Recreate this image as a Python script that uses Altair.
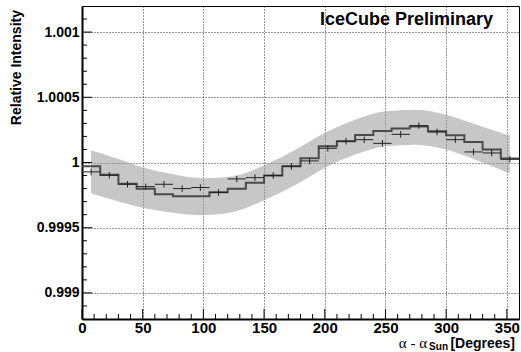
import altair as alt
import pandas as pd

# ---- data ----
bin_lo = [0, 15, 30, 45, 60, 75, 90, 105, 120, 135, 150, 165,
          180, 195, 210, 225, 240, 255, 270, 285, 300, 315, 330, 345]
bin_hi = [15, 30, 45, 60, 75, 90, 105, 120, 135, 150, 165, 180,
          195, 210, 225, 240, 255, 270, 285, 300, 315, 330, 345, 360]
step_vals = [0.999971, 0.999907, 0.999838, 0.999798, 0.999757, 0.999741,
             0.999741, 0.999772, 0.999798, 0.999844, 0.999900, 0.999971,
             1.000032, 1.000124, 1.000163, 1.000211, 1.000242, 1.000260,
             1.000277, 1.000239, 1.000208, 1.000157, 1.000099, 1.000030]
point_vals = [0.999928, 0.999902, 0.999833, 0.999815, 0.999833, 0.999800,
              0.999808, 0.999770, 0.999874, 0.999884, 0.999900, 0.999971,
              1.000012, 1.000109, 1.000163, 1.000175, 1.000147, 1.000216,
              1.000283, 1.000234, 1.000175, 1.000081, 1.000073, 1.000025]
point_err = [0.000026, 0.000025, 0.000025, 0.000025, 0.000025, 0.000025,
             0.000025, 0.000025, 0.000025, 0.000025, 0.000025, 0.000025,
             0.000025, 0.000025, 0.000025, 0.000025, 0.000025, 0.000025,
             0.000025, 0.000025, 0.000025, 0.000025, 0.000025, 0.000026]
band_x = [7.5, 30, 50, 75, 100, 125, 150, 175, 200, 225, 250, 275, 300, 325, 352.5]
band_upper = [1.0000937, 1.0000273, 0.9999635, 0.9999099, 0.9998793, 0.9998946,
              0.9999788, 1.0000937, 1.0002264, 1.0003284, 1.0003922, 1.0004050,
              1.0003667, 1.0002902, 1.0002059]
band_lower = [0.9997619, 0.9997007, 0.9996522, 0.9996139, 0.9995960, 0.9996215,
              0.9997109, 0.9998231, 0.9999584, 1.0000605, 1.0001243, 1.0001370,
              1.0000988, 1.0000171, 0.9999150]
x_major = [0, 50, 100, 150, 200, 250, 300, 350]
x_minor = [10, 20, 30, 40, 60, 70, 80, 90, 110, 120, 130, 140, 160, 170, 180, 190,
           210, 220, 230, 240, 260, 270, 280, 290, 310, 320, 330, 340]
y_major = [0.999, 0.9995, 1.0, 1.0005, 1.001]
y_minor = [0.9989, 0.9991, 0.9992, 0.9993, 0.9994, 0.9996, 0.9997, 0.9998, 0.9999,
           1.0001, 1.0002, 1.0003, 1.0004, 1.0006, 1.0007, 1.0008, 1.0009, 1.0011]

W, H = 437, 313
FONT = "Liberation Sans"

xs = alt.Scale(domain=[0, 360], nice=False)
ys = alt.Scale(domain=[0.9988, 1.0012], nice=False, zero=False)

bins_df = pd.DataFrame({
    "lo": bin_lo, "hi": bin_hi,
    "mid": [(a + b) / 2 for a, b in zip(bin_lo, bin_hi)],
    "val": point_vals,
    "top": [v + e for v, e in zip(point_vals, point_err)],
    "bot": [v - e for v, e in zip(point_vals, point_err)],
})
step_df = pd.DataFrame({"x": bin_lo + [bin_hi[-1]], "y": step_vals + [step_vals[-1]]})
band_df = pd.DataFrame({"x": band_x, "up": band_upper, "lo": band_lower})

x_axis = alt.Axis(values=x_major, grid=True, gridDash=[1, 2], gridColor="#333",
                  gridWidth=1, ticks=False, labelFont=FONT, labelFontWeight="bold",
                  labelFontSize=15, labelColor="black", labelPadding=1,
                  domainColor="black", domainWidth=2, title=None, labelFlush=False)
y_axis = alt.Axis(values=y_major, format=".4~f", grid=True, gridDash=[1, 2],
                  gridColor="#333", gridWidth=1, ticks=False, labelFont=FONT,
                  labelFontWeight="bold", labelFontSize=14, labelColor="black",
                  labelPadding=3, domainColor="black", domainWidth=2, title=None,
                  labelFlush=False)


def X(field):
    return alt.X(field, scale=xs, axis=x_axis)


def Y(field):
    return alt.Y(field, scale=ys, axis=y_axis)


band = alt.Chart(band_df).mark_area(color="#999999", opacity=0.55, interpolate="monotone").encode(
    x=X("x:Q"), y=Y("lo:Q"), y2="up:Q",
)

step = alt.Chart(step_df).mark_line(interpolate="step-after", color="#4a4a4a", strokeWidth=2).encode(
    x=X("x:Q"), y=Y("y:Q"),
)

hbar = alt.Chart(bins_df).mark_rule(color="#222", strokeWidth=1).encode(
    x=X("lo:Q"), x2="hi:Q", y=Y("val:Q"),
)
vbar = alt.Chart(bins_df).mark_rule(color="#222", strokeWidth=1).encode(
    x=X("mid:Q"), y=Y("bot:Q"), y2="top:Q",
)


def xticks(vals, length):
    return alt.Chart(pd.DataFrame({"t": vals})).mark_rule(color="black", strokeWidth=1).encode(
        x=X("t:Q"), y=alt.value(H - length), y2=alt.value(H))


def yticks(vals, length):
    return alt.Chart(pd.DataFrame({"t": vals})).mark_rule(color="black", strokeWidth=1).encode(
        y=Y("t:Q"), x=alt.value(0), x2=alt.value(length))


def label(text, x, y, size, weight="bold", align="right", font=FONT, angle=0, baseline="alphabetic"):
    return alt.Chart(pd.DataFrame({"t": [text]})).mark_text(
        align=align, baseline=baseline, font=font, fontSize=size, fontWeight=weight,
        color="black", angle=angle).encode(text="t:N", x=alt.value(x), y=alt.value(y))


layers = [
    band, step, hbar, vbar,
    xticks(x_major, 10), xticks(x_minor, 5), yticks(y_major, 10), yticks(y_minor, 5),
    label("IceCube Preliminary", 411, 18.5, 18),
    label("Relative Intensity", -65, 4, 14, angle=270, baseline="middle"),
    label("[Degrees]", 433, 342, 14),
    label("Sun", 366, 344, 10),
    label("α - α", 345, 342, 15, weight="normal", font="Liberation Serif"),
]

chart = alt.layer(*layers).properties(
    width=W, height=H,
    autosize=alt.AutoSizeParams(type="none"),
    padding={"left": 82, "top": 6, "right": 2, "bottom": 33},
    background="white",
).configure_view(stroke="black", strokeWidth=1)

chart.save("out.html", embed_options={"renderer": "svg", "actions": False})
